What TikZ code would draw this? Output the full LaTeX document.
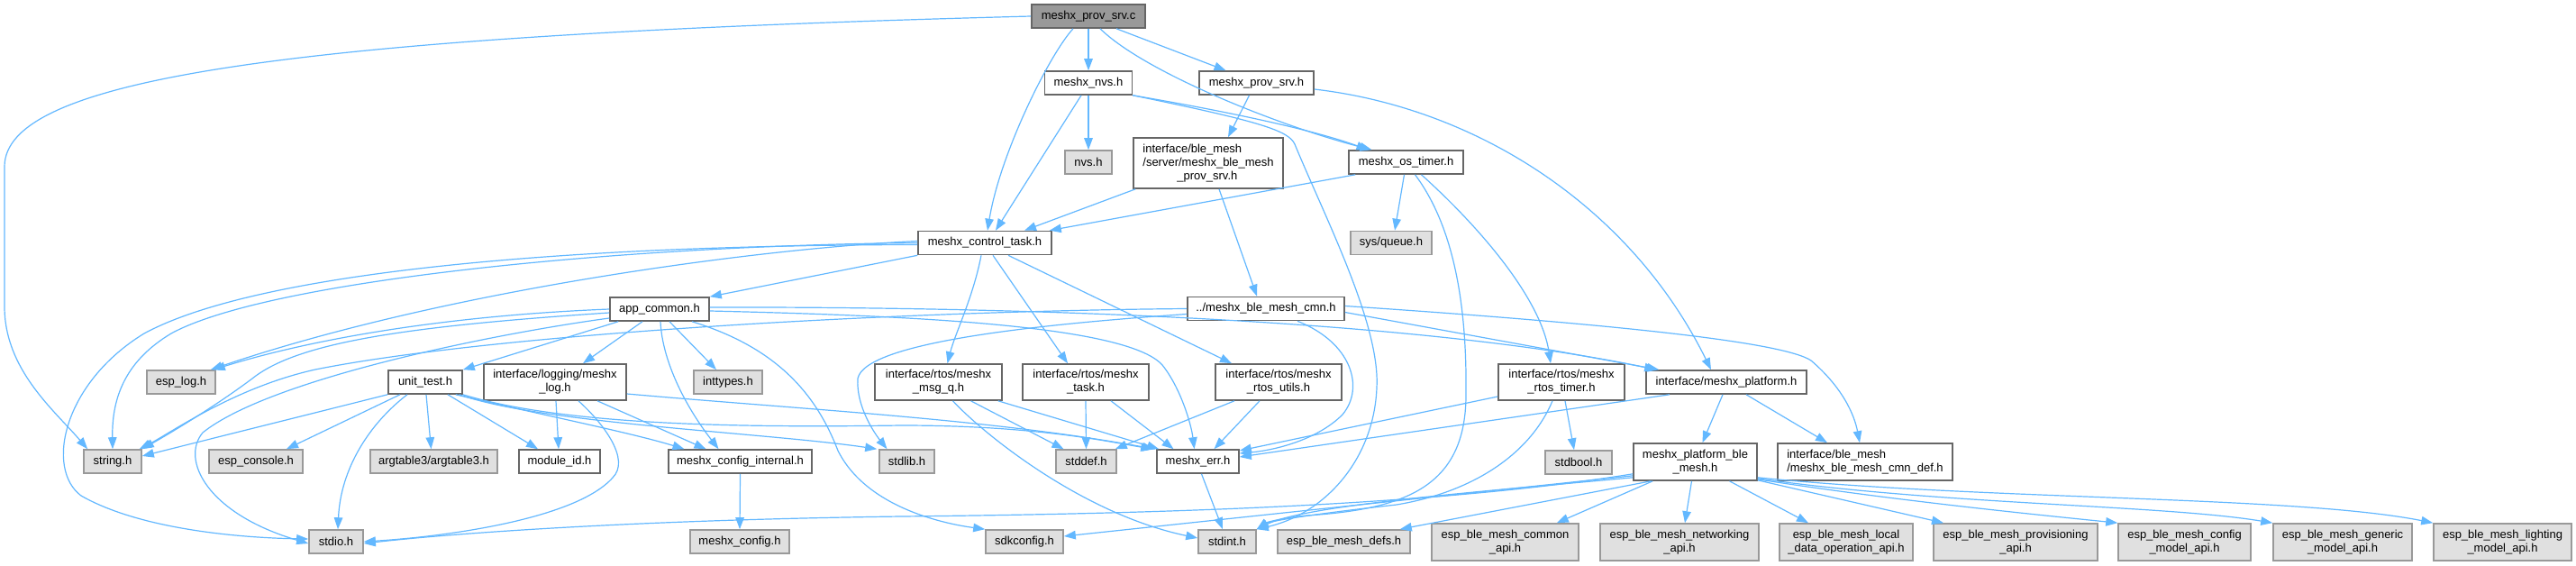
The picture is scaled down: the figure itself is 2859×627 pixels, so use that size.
\documentclass[tikz,border=0pt]{standalone}
\usepackage{fontspec}
\setmainfont{Liberation Sans}
\usetikzlibrary{arrows.meta}
\definecolor{edgec}{HTML}{63B8FF}
\definecolor{gfill}{HTML}{E0E0E0}
\definecolor{gline}{HTML}{999999}
\definecolor{wline}{HTML}{666666}
\definecolor{rfill}{HTML}{999999}
\begin{document}
\begin{tikzpicture}[x=1pt,y=-1pt,
  nb/.style={draw, line width=1.6pt, font=\fontsize{13}{15}\selectfont, inner sep=2pt, minimum height=26pt, align=center, anchor=center},
  wbox/.style={nb, draw=wline, fill=white},
  gbox/.style={nb, draw=gline, fill=gfill},
  rbox/.style={nb, draw=wline, fill=rfill},
  e/.style={draw=edgec, line width=1.2pt, -{Triangle[length=13pt,width=9.5pt]}}
]
\fill[white] (0,0) rectangle (2859,627);
\useasboundingbox (0,0) rectangle (2859,627);

% nodes
\node[rbox, minimum width=126pt] (A) at (1208,18) {meshx\_prov\_srv.c};
\node[wbox, minimum width=97pt] (nvs) at (1208,92) {meshx\_nvs.h};
\node[wbox, minimum width=127pt] (psh) at (1394.5,92) {meshx\_prov\_srv.h};
\node[gbox, minimum width=52pt] (nvsh) at (1208,180) {nvs.h};
\node[wbox, minimum width=166pt, minimum height=56pt, align=left] (bps) at (1341,181) {interface/ble\_mesh\\/server/meshx\_ble\_mesh\\\hspace*{38pt}\_prov\_srv.h};
\node[wbox, minimum width=127pt] (ost) at (1560.5,180) {meshx\_os\_timer.h};
\node[wbox, minimum width=148pt] (ct) at (1093,269.5) {meshx\_control\_task.h};
\node[gbox, minimum width=90pt] (sq) at (1544,269.5) {sys/queue.h};
\node[wbox, minimum width=110pt] (app) at (732,343) {app\_common.h};
\node[wbox, minimum width=174pt] (cmn) at (1405,342.5) {../meshx\_ble\_mesh\_cmn.h};
\node[gbox, minimum width=76pt] (elog) at (201,424) {esp\_log.h};
\node[wbox, minimum width=82pt] (ut) at (472,424) {unit\_test.h};
\node[wbox, minimum width=158pt, minimum height=40pt] (log) at (616,424) {interface/logging/meshx\\\_log.h};
\node[gbox, minimum width=76pt] (inty) at (808,424) {inttypes.h};
\node[wbox, minimum width=141pt, minimum height=40pt] (msgq) at (1041.5,424) {interface/rtos/meshx\\\_msg\_q.h};
\node[wbox, minimum width=140pt, minimum height=40pt] (task) at (1205,424) {interface/rtos/meshx\\\_task.h};
\node[wbox, minimum width=140pt, minimum height=40pt] (rutil) at (1419,424) {interface/rtos/meshx\\\_rtos\_utils.h};
\node[wbox, minimum width=140pt, minimum height=40pt] (rtimer) at (1733,424) {interface/rtos/meshx\\\_rtos\_timer.h};
\node[wbox, minimum width=178pt] (plat) at (1916,424) {interface/meshx\_platform.h};
\node[gbox, minimum width=64pt] (str) at (125,512) {string.h};
\node[gbox, minimum width=104pt] (econ) at (284,512) {esp\_console.h};
\node[gbox, minimum width=141pt] (arg) at (481.5,512) {argtable3/argtable3.h};
\node[wbox, minimum width=90pt] (mid) at (621,512) {module\_id.h};
\node[wbox, minimum width=159pt] (cfgi) at (821.5,512) {meshx\_config\_internal.h};
\node[gbox, minimum width=61pt] (stdlib) at (1006.5,512) {stdlib.h};
\node[gbox, minimum width=67pt] (stddef) at (1205.5,512) {stddef.h};
\node[wbox, minimum width=91pt] (err) at (1329.5,512) {meshx\_err.h};
\node[gbox, minimum width=74pt] (stdbool) at (1752,513) {stdbool.h};
\node[wbox, minimum width=137pt, minimum height=41pt] (pbm) at (1881.5,512.5) {meshx\_platform\_ble\\\_mesh.h};
\node[wbox, minimum width=194pt, minimum height=41pt, align=left] (cdef) at (2070,512.5) {interface/ble\_mesh\\/meshx\_ble\_mesh\_cmn\_def.h};
\node[gbox, minimum width=60pt] (stdio) at (373,601) {stdio.h};
\node[gbox, minimum width=110pt] (cfg) at (821,601) {meshx\_config.h};
\node[gbox, minimum width=86pt] (sdk) at (1137,601) {sdkconfig.h};
\node[gbox, minimum width=64pt] (stdint) at (1362,601) {stdint.h};
\node[gbox, minimum width=147pt] (defs) at (1491.5,601) {esp\_ble\_mesh\_defs.h};
\node[gbox, minimum width=163pt, minimum height=41pt] (common) at (1670.5,601.5) {esp\_ble\_mesh\_common\\\_api.h};
\node[gbox, minimum width=176pt, minimum height=41pt] (networking) at (1864,601.5) {esp\_ble\_mesh\_networking\\\_api.h};
\node[gbox, minimum width=148pt, minimum height=41pt] (local) at (2049,601.5) {esp\_ble\_mesh\_local\\\_data\_operation\_api.h};
\node[gbox, minimum width=182pt, minimum height=41pt] (prov) at (2237,601.5) {esp\_ble\_mesh\_provisioning\\\_api.h};
\node[gbox, minimum width=147pt, minimum height=41pt] (config) at (2424.5,601.5) {esp\_ble\_mesh\_config\\\_model\_api.h};
\node[gbox, minimum width=154pt, minimum height=41pt] (generic) at (2600,601.5) {esp\_ble\_mesh\_generic\\\_model\_api.h};
\node[gbox, minimum width=153pt, minimum height=41pt] (lighting) at (2777.5,601.5) {esp\_ble\_mesh\_lighting\\\_model\_api.h};

% edges from meshx_prov_srv.c
\draw[e] (A.west) .. controls (300,40) and (5,90) .. (5,185) -- (5,340) .. controls (5,410) and (60,455) .. ([xshift=5pt]str.north west);
\draw[e] (A.south) -- (nvs.north);
\draw[e] ([xshift=31pt]A.south) -- ([xshift=-34pt]psh.north);
\draw[e] ([xshift=-17pt]A.south) .. controls (1165,60) and (1110,170) .. ([xshift=3pt]ct.north);
\draw[e] ([xshift=13pt]A.south) .. controls (1270,80) and (1420,140) .. ([xshift=-38pt]ost.north);
% meshx_nvs.h
\draw[e] (nvs.south) -- (nvsh.north);
\draw[e] ([xshift=-8pt]nvs.south) -- ([xshift=12pt]ct.north);
\draw[e] (nvs.south east) .. controls (1370,125) and (1460,145) .. ([xshift=-42pt]ost.north);
\draw[e] (nvs.south east) .. controls (1400,135) and (1430,145) .. (1437,160) .. controls (1470,240) and (1532,360) .. (1528,430) .. controls (1525,510) and (1470,570) .. (stdint.north east);
% meshx_prov_srv.h
\draw[e] ([xshift=-8pt]psh.south) -- ([xshift=22pt]bps.north);
\draw[e] ([yshift=-7pt]psh.east) .. controls (1640,120) and (1810,230) .. ([xshift=-17pt]plat.north);
% ble_mesh prov srv
\draw[e] ([xshift=3pt]bps.south west) -- ([xshift=44pt]ct.north);
\draw[e] ([xshift=12pt]bps.south) -- ([xshift=-10pt]cmn.north);
% meshx_os_timer.h
\draw[e] ([xshift=8pt]ost.south west) -- ([xshift=-3pt]ct.north east);
\draw[e] ([xshift=-2pt]ost.south) -- ([xshift=4pt]sq.north);
\draw[e] ([xshift=17pt]ost.south) .. controls (1640,250) and (1710,330) .. ([xshift=-12pt]rtimer.north);
\draw[e] ([xshift=10pt]ost.south) .. controls (1620,260) and (1628,360) .. (1627,440) .. controls (1626,540) and (1560,565) .. (1450,572) .. controls (1420,575) and (1405,580) .. (stdint.north east);
% meshx_control_task.h
\draw[e] ([xshift=-4pt]ct.south) .. controls (1080,330) and (1060,370) .. ([xshift=10pt]msgq.north);
\draw[e] ([xshift=9pt]ct.south) -- ([xshift=-20pt]task.north);
\draw[e] ([xshift=26pt]ct.south) -- ([xshift=-52pt]rutil.north);
\draw[e] (ct.south west) -- (app.north east);
\draw[e] ([yshift=2pt]ct.west) .. controls (850,275) and (500,320) .. ([xshift=-6pt]elog.north east);
\draw[e] (ct.west) .. controls (700,272) and (300,310) .. (190,370) .. controls (140,400) and (124,440) .. (str.north);
\draw[e] ([yshift=-2pt]ct.west) .. controls (600,272) and (280,305) .. (160,370) .. controls (70,425) and (50,520) .. (90,550) .. controls (160,590) and (280,597) .. ([yshift=3pt]stdio.west);
% app_common.h
\draw[e] (app.west) .. controls (500,350) and (350,375) .. ([xshift=-3pt]elog.north east);
\draw[e] ([yshift=-4pt]app.west) .. controls (450,362) and (330,380) .. (280,420) .. controls (240,450) and (190,480) .. (str.north east);
\draw[e] ([xshift=10pt]app.south west) -- (ut.north east);
\draw[e] ([yshift=-10pt]app.west) .. controls (550,370) and (300,420) .. (225,480) .. controls (200,510) and (230,570) .. ([yshift=-2pt]stdio.west);
\draw[e] ([xshift=-19pt]app.south) -- ([xshift=31pt]log.north);
\draw[e] ([xshift=11pt]app.south) -- ([xshift=-13pt]inty.north);
\draw[e] ([xshift=1pt]app.south) .. controls (735,400) and (760,450) .. ([xshift=-24pt]cfgi.north);
\draw[e] ([xshift=36pt]app.south) .. controls (860,385) and (905,435) .. (930,500) .. controls (960,560) and (1040,580) .. (sdk.north west);
\draw[e] ([yshift=2pt]app.east) .. controls (1200,340) and (1600,360) .. ([xshift=12pt]plat.north west);
\draw[e] ([yshift=-2pt]app.east) .. controls (1000,350) and (1250,360) .. (1290,405) .. controls (1310,430) and (1322,470) .. ([xshift=-4pt]err.north);
% ../meshx_ble_mesh_cmn.h
\draw[e] (cmn.west) .. controls (1000,345) and (550,370) .. (350,410) .. controls (260,430) and (190,480) .. ([xshift=-3pt]str.north east);
\draw[e] ([yshift=-6pt]cmn.west) .. controls (1150,360) and (960,380) .. (952,420) .. controls (950,450) and (970,480) .. ([xshift=-22pt]stdlib.north);
\draw[e] ([xshift=35pt]cmn.south) .. controls (1500,380) and (1515,430) .. (1490,460) .. controls (1460,490) and (1410,500) .. ([yshift=9pt]err.east);
\draw[e] ([yshift=-4pt]cmn.east) -- ([xshift=15pt]plat.north west);
\draw[e] ([yshift=3pt]cmn.east) .. controls (1800,360) and (1980,380) .. (2010,400) .. controls (2045,430) and (2058,460) .. ([xshift=-6pt]cdef.north);
% meshx_log.h
\draw[e] ([xshift=1pt]log.south) -- ([xshift=-1pt]mid.north);
\draw[e] ([xshift=47pt]log.south) -- ([xshift=-38pt]cfgi.north);
\draw[e] ([xshift=26pt]log.south) .. controls (670,470) and (700,510) .. (680,530) .. controls (640,575) and (500,595) .. (stdio.east);
\draw[e] ([yshift=-13pt]log.east) .. controls (900,455) and (1100,465) .. ([xshift=-2pt]err.north west);
% unit_test.h
\draw[e] (ut.south west) -- ([yshift=6pt]str.east);
\draw[e] ([xshift=-28pt]ut.south) -- ([xshift=34pt]econ.north);
\draw[e] ([xshift=1pt]ut.south) -- ([xshift=-3pt]arg.north);
\draw[e] ([xshift=-20pt]ut.south) .. controls (410,470) and (378,520) .. ([xshift=2pt]stdio.north);
\draw[e] ([xshift=25pt]ut.south) -- ([xshift=-24pt]mid.north);
\draw[e] ([xshift=-8pt]ut.south east) .. controls (600,460) and (700,480) .. ([xshift=-62pt]cfgi.north);
\draw[e] ([xshift=-4pt]ut.south east) .. controls (600,470) and (850,480) .. ([xshift=-2pt]stdlib.north west);
\draw[e] (ut.south east) .. controls (620,470) and (800,475) .. (1000,472) .. controls (1150,472) and (1230,490) .. ([xshift=-4pt]err.north west);
% rtos headers
\draw[e] ([xshift=36pt]msgq.south) -- ([xshift=-25pt]stddef.north);
\draw[e] ([xshift=-5pt]msgq.south east) -- ([xshift=3pt]err.north west);
\draw[e] ([xshift=16pt]msgq.south) .. controls (1090,480) and (1200,570) .. ([yshift=4pt]stdint.west);
\draw[e] (task.south) -- (stddef.north);
\draw[e] ([xshift=28pt]task.south) -- ([xshift=-27pt]err.north);
\draw[e] ([xshift=-49pt]rutil.south) -- ([xshift=-2pt]stddef.north east);
\draw[e] ([xshift=-21pt]rutil.south) -- ([xshift=18pt]err.north);
\draw[e] ([xshift=4pt]err.south) -- ([xshift=-5pt]stdint.north);
\draw[e] ([yshift=-16pt]rtimer.west) -- ([yshift=12pt]err.east);
\draw[e] ([xshift=4pt]rtimer.south) -- ([xshift=-5pt]stdbool.north);
\draw[e] ([xshift=-10pt]rtimer.south) .. controls (1700,500) and (1640,545) .. (1550,560) .. controls (1460,570) and (1410,578) .. (stdint.north east);
% interface/meshx_platform.h
\draw[e] ([xshift=-63pt]plat.south) -- ([yshift=5pt]err.east);
\draw[e] ([xshift=-4pt]plat.south) -- ([xshift=8pt]pbm.north);
\draw[e] ([xshift=22pt]plat.south) -- ([xshift=-42pt]cdef.north);
% config
\draw[e] (cfgi.south) -- (cfg.north);
% meshx_platform_ble_mesh.h
\draw[e] ([yshift=8pt]pbm.south west) .. controls (1600,560) and (1300,570) .. (1000,573) .. controls (700,577) and (500,592) .. ([yshift=-2pt]stdio.east);
\draw[e] ([yshift=6pt]pbm.south west) -- ([yshift=6pt]sdk.east);
\draw[e] ([yshift=4pt]pbm.south west) .. controls (1650,545) and (1450,560) .. (stdint.north east);
\draw[e] ([xshift=20pt]pbm.south west) -- ([xshift=-12pt]defs.north east);
\draw[e] ([xshift=22pt]pbm.south west) -- ([xshift=-25pt]common.north east);
\draw[e] ([xshift=-4pt]pbm.south) -- ([xshift=6pt]networking.north);
\draw[e] ([xshift=38pt]pbm.south) -- ([xshift=-42pt]local.north);
\draw[e] ([yshift=1pt]pbm.south east) -- ([xshift=-80pt]prov.north);
\draw[e] ([yshift=2pt]pbm.south east) .. controls (2100,555) and (2250,570) .. (config.north west);
\draw[e] ([yshift=3pt]pbm.south east) .. controls (2150,560) and (2400,560) .. (generic.north west);
\draw[e] ([yshift=4pt]pbm.south east) .. controls (2200,555) and (2550,550) .. (lighting.north west);
\end{tikzpicture}
\end{document}
